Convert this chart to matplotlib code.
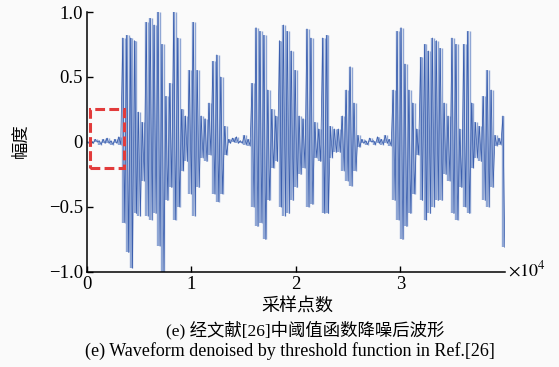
import numpy as np
import matplotlib.pyplot as plt
from matplotlib.patches import Rectangle

# waveform: one positive and one negative peak per 375 samples
peak_step = 375
upper_peaks = [0.00, 0.01, 0.02, 0.01, 0.02, 0.03, 0.01, 0.02, 0.04,
               0.80, 0.82, 0.80, 0.78, 0.23, 0.15,
               0.92, 0.95, 0.90, 1.00, 0.75, 0.35, 0.45, 1.00, 0.80,
               0.25, 0.20, 0.55, 0.92, 0.55, 0.20, 0.18, 0.30,
               0.62, 0.67, 0.50, 0.12,
               0.02, 0.03, 0.04, 0.01, 0.05, 0.02,
               0.45, 0.88, 0.85, 0.82, 0.40, 0.25, 0.20,
               0.78, 0.90, 0.85, 0.70, 0.55, 0.20, 0.18,
               0.87, 0.80, 0.15, 0.10, 0.80, 0.82, 0.12, 0.10, 0.10,
               0.20, 0.40, 0.58, 0.30, 0.05,
               0.02, 0.01, 0.03, 0.01, 0.04, 0.02, 0.05, 0.02,
               0.40, 0.85, 0.88, 0.60, 0.40, 0.30, 0.10,
               0.65, 0.75, 0.70, 0.80, 0.78, 0.72, 0.30, 0.20,
               0.80, 0.75, 0.10, 0.75, 0.85, 0.30, 0.15, 0.12,
               0.35, 0.55, 0.40, 0.05, 0.03, 0.20]
lower_peaks = [-0.01, -0.01, 0.00, -0.02, -0.01, -0.01, -0.02, -0.01, -0.02,
               -0.62, -0.85, -0.97, -0.55, -0.57, -0.30,
               -0.57, -0.60, -0.55, -0.80, -1.00, -0.45, -0.35, -0.60, -0.50,
               -0.22, -0.15, -0.40, -0.57, -0.35, -0.12, -0.15, -0.10,
               -0.40, -0.46, -0.40, -0.10,
               -0.01, 0.00, -0.01, -0.01, -0.02, -0.03,
               -0.50, -0.65, -0.62, -0.75, -0.45, -0.20, -0.15,
               -0.50, -0.57, -0.55, -0.45, -0.35, -0.25, -0.20,
               -0.50, -0.48, -0.12, -0.15, -0.55, -0.55, -0.12, -0.08, -0.08,
               -0.22, -0.30, -0.34, -0.22, -0.04,
               -0.01, -0.02, 0.00, -0.02, -0.01, -0.02, -0.01, -0.03,
               -0.45, -0.60, -0.75, -0.65, -0.55, -0.40, -0.10,
               -0.45, -0.60, -0.55, -0.50, -0.45, -0.45, -0.25, -0.30,
               -0.55, -0.60, -0.35, -0.50, -0.55, -0.20, -0.12, -0.15,
               -0.45, -0.50, -0.35, -0.03, -0.02, -0.81]

x_ticks = [0, 10000, 20000, 30000]
x_ticklabels = ["0", "1", "2", "3"]
y_ticks = [-1.0, -0.5, 0.0, 0.5, 1.0]
y_ticklabels = ["\u22121.0", "\u22120.5", "0", "0.5", "1.0"]
box_x = [300, 3550]
box_y = [-0.2, 0.25]

plt.rcParams["font.family"] = ["Liberation Serif", "Noto Sans CJK SC"]
plt.rcParams["mathtext.fontset"] = "stix"

n = len(upper_peaks)
pos = np.arange(n) * peak_step
xs = np.empty(2 * n)
ys = np.empty(2 * n)
xs[0::2] = pos + 50
xs[1::2] = pos + 230
ys[0::2] = upper_peaks
ys[1::2] = lower_peaks

fig = plt.figure(figsize=(5.59, 3.67), dpi=100, facecolor="#fafafa")
ax = fig.add_axes([0.1556, 0.2590, 0.7478, 0.7083])
ax.set_facecolor("#fafafa")
# light strokes between the peaks, darker trace on top
ax.vlines(xs[0::2], lower_peaks, upper_peaks, color="#8fa6d4", linewidth=1.7)
ax.vlines(xs[1::2], lower_peaks, upper_peaks, color="#8fa6d4", linewidth=1.0)
ax.plot(xs, ys, color="#3a5eae", linewidth=0.55)
ax.add_patch(Rectangle((box_x[0], box_y[0]), box_x[1] - box_x[0], box_y[1] - box_y[0],
                       fill=False, edgecolor="#e23b3b", linewidth=2.2,
                       linestyle=(0, (3.2, 1.4)), zorder=3))

ax.set_xlim(0, 40000)
ax.set_ylim(-1.0, 1.0)
ax.set_xticks(x_ticks)
ax.set_xticklabels(x_ticklabels, fontsize=13.5)
ax.set_yticks(y_ticks)
ax.set_yticklabels(y_ticklabels, fontsize=13.5)
ax.tick_params(direction="in", length=4, width=1.0, pad=3, colors="black")
for side in ["top", "right"]:
    ax.spines[side].set_visible(False)
for side in ["left", "bottom"]:
    ax.spines[side].set_linewidth(1.1)

fig.text(508 / 559, 1 - 270 / 367, r"$\times10^4$", fontsize=13, ha="left", va="center")
fig.text(22 / 559, 1 - 141 / 367, "幅度", fontsize=12.5, rotation=90, ha="center", va="center")
fig.text(297 / 559, 1 - 307 / 367, "采样点数", fontsize=13, ha="center", va="center")
fig.text(305 / 559, 1 - 330 / 367, "(e) 经文献[26]中阈值函数降噪后波形", fontsize=12.5,
         ha="center", va="center")
fig.text(290 / 559, 1 - 351 / 367, "(e) Waveform denoised by threshold function in Ref.[26]",
         fontsize=13, ha="center", va="center")

fig.savefig("out.png", dpi=100, facecolor=fig.get_facecolor())
